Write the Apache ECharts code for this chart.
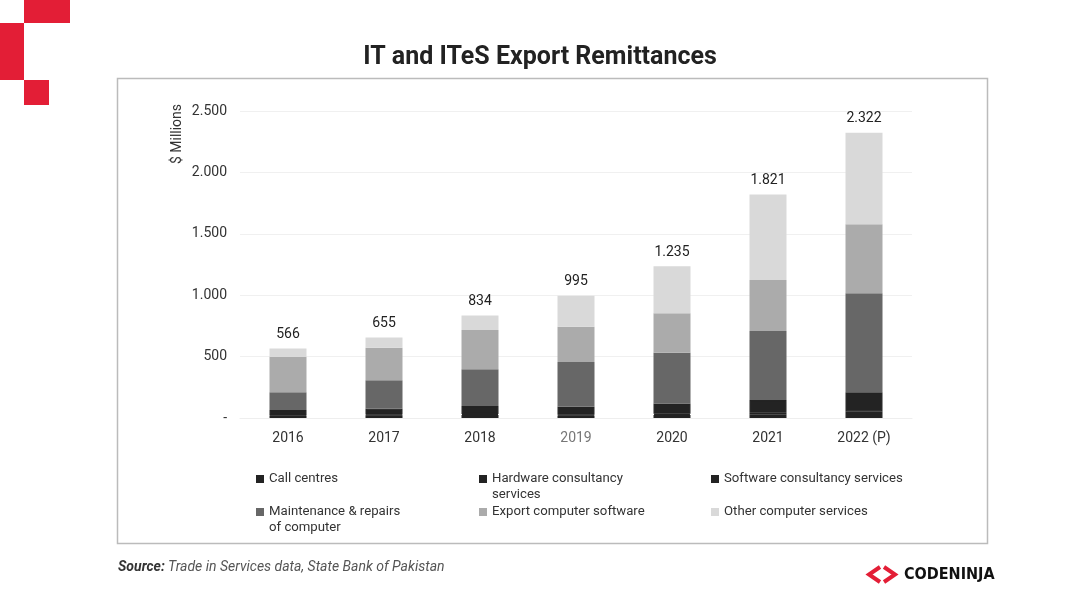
<!DOCTYPE html>
<html>
<head>
<meta charset="utf-8">
<script src="https://cdn.jsdelivr.net/npm/echarts@6/dist/echarts.min.js"></script>
<style>html,body{margin:0;padding:0;background:#fff}#c{width:1080px;height:608px}</style>
</head>
<body>
<div id="c"></div>
<script>
const categories = ['2016','2017','2018','2019','2020','2021','2022 (P)'];
const callCentres = [20, 22, 25, 20, 25, 30, 40];
const hardwareConsultancy = [5, 6, 8, 7, 9, 12, 14];
const softwareConsultancy = [40, 48, 65, 65, 85, 105, 155];
const maintenanceRepairs = [144, 231, 298, 364, 413, 561, 806];
const exportSoftware = [290, 266, 321, 288, 320, 416, 562];
const otherServices = [67, 82, 117, 251, 383, 697, 745];
const totals = [566, 655, 834, 995, 1235, 1821, 2322];
const yTicks = [0, 500, 1000, 1500, 2000, 2500];

const FONT = 'Roboto';
function fmt(v){ return v === 0 ? '-' : String(v).replace(/\B(?=(\d{3})+(?!\d))/g, '.'); }

const seriesDefs = [
  {name:'Call centres', data: callCentres, color:'#232323'},
  {name:'Hardware consultancy services', data: hardwareConsultancy, color:'#232323'},
  {name:'Software consultancy services', data: softwareConsultancy, color:'#232323'},
  {name:'Maintenance & repairs of computer', data: maintenanceRepairs, color:'#676767'},
  {name:'Export computer software', data: exportSoftware, color:'#ababab'},
  {name:'Other computer services', data: otherServices, color:'#d9d9d9'}
];
const wrapNames = {
  'Hardware consultancy services': 'Hardware consultancy\nservices',
  'Maintenance & repairs of computer': 'Maintenance & repairs\nof computer'
};
const legendPos = [[256,471],[479,471],[711,471],[256,504],[479,504],[711,504]];
// square icon placed at the top of a tall (two-line) icon box
const tallIcon = 'path://M0,0L0.01,0L0,0.01Z M0,4L8,4L8,12L0,12Z M0,32L0.01,32L0,32.01Z';

const series = seriesDefs.map((s, i) => ({
  name: s.name, type: 'bar', stack: 'total', barWidth: 37,
  data: s.data,
  itemStyle: {color: s.color, borderColor: s.color, borderWidth: i < 3 ? 1.2 : 0},
  label: i === seriesDefs.length - 1 ? {
    show: true, position: 'top', distance: 7,
    formatter: p => fmt(totals[p.dataIndex]),
    color: '#222', fontFamily: FONT, fontSize: 14
  } : {show: false}
}));

const legends = seriesDefs.map((s, i) => {
  const wrapped = !!wrapNames[s.name];
  return {
    data: [s.name], left: legendPos[i][0], top: legendPos[i][1],
    icon: wrapped ? tallIcon : 'rect', itemWidth: 8, itemHeight: wrapped ? 32 : 8,
    itemGap: 4, padding: 0,
    formatter: n => wrapNames[n] || n,
    textStyle: {fontFamily: FONT, fontSize: 13.2, color: '#333', lineHeight: 16},
    itemStyle: {borderWidth: 0},
    selectedMode: false
  };
});

const chart = echarts.init(document.getElementById('c'), null, {renderer: 'canvas'});
chart.setOption({
  animation: false,
  backgroundColor: '#fff',
  title: {
    text: 'IT and ITeS Export Remittances', left: 'center', top: 40,
    textStyle: {fontFamily: FONT, fontSize: 25, fontWeight: 'bold', color: '#222'}
  },
  grid: {left: 240, right: 168, top: 111, bottom: 190},
  legend: legends,
  xAxis: {
    type: 'category', data: categories,
    axisTick: {show: false},
    axisLine: {show: true, lineStyle: {color: '#eeeeee'}},
    axisLabel: {
      margin: 13, fontFamily: FONT, fontSize: 14,
      color: '#333',
      formatter: v => v === '2019' ? '{g|' + v + '}' : v,
      rich: {g: {color: '#777', fontFamily: FONT, fontSize: 14}}
    }
  },
  yAxis: {
    type: 'value', min: yTicks[0], max: yTicks[yTicks.length-1], interval: 500,
    axisLine: {show: false}, axisTick: {show: false},
    splitLine: {lineStyle: {color: '#f0f0f0'}},
    axisLabel: {margin: 13, fontFamily: FONT, fontSize: 14, color: '#333', formatter: v => fmt(v)}
  },
  series: series,
  graphic: [
    {type: 'rect', shape: {x: 24, y: 0, width: 46, height: 23}, style: {fill: '#e31e36'}},
    {type: 'rect', shape: {x: 0, y: 23, width: 24, height: 57}, style: {fill: '#e31e36'}},
    {type: 'rect', shape: {x: 24, y: 80, width: 25, height: 25}, style: {fill: '#e31e36'}},
    {type: 'rect', shape: {x: 117.5, y: 78.5, width: 870, height: 465}, style: {fill: 'none', stroke: '#bbbbbb', lineWidth: 1.5}, z: -1},
    {type: 'text', x: 177, y: 134, rotation: Math.PI/2,
      style: {text: '$ Millions', fontFamily: FONT, fontSize: 14, fill: '#333', align: 'center', verticalAlign: 'middle'}},
    {type: 'text', x: 118, y: 567,
      style: {text: '{b|Source:} {i|Trade in Services data, State Bank of Pakistan}', verticalAlign: 'middle',
        rich: {
          b: {fontFamily: FONT, fontSize: 14, fontStyle: 'italic', fontWeight: 'bold', fill: '#333'},
          i: {fontFamily: FONT, fontSize: 14, fontStyle: 'italic', fill: '#555'}
        }}},
    {type: 'polyline', shape: {points: [[880,567],[869,574.5],[880,582]]}, style: {stroke: '#e31e36', lineWidth: 4, fill: 'none', lineJoin: 'miter'}},
    {type: 'polyline', shape: {points: [[884,567],[895,574.5],[884,582]]}, style: {stroke: '#e31e36', lineWidth: 4, fill: 'none', lineJoin: 'miter'}},
    {type: 'text', x: 904, y: 575,
      style: {text: 'CODENINJA', fontFamily: 'DejaVu Sans Condensed', fontSize: 16, fontWeight: 'bold', fill: '#111', verticalAlign: 'middle'}}
  ]
});
</script>
</body>
</html>
